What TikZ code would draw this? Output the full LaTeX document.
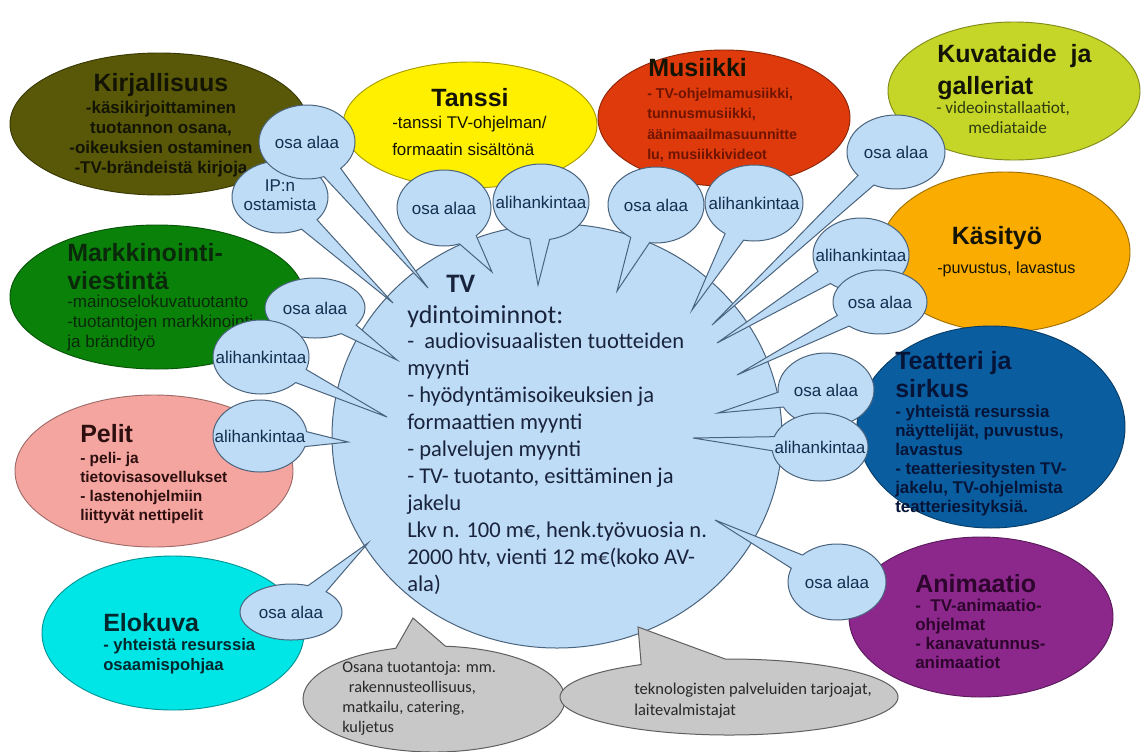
\documentclass[tikz,border=0pt]{standalone}
\usepackage{fontspec}
\setmainfont{Liberation Sans}
\newfontfamily\calib{Carlito}
\usetikzlibrary{shapes.geometric,shapes.callouts}
\newcommand{\fs}[2]{\fontsize{#1}{#2}\selectfont}
\newcommand{\blk}[2]{\begin{tabular}[t]{@{}#1@{}}#2\end{tabular}}
\definecolor{cKir}{RGB}{88,88,8}
\definecolor{cTan}{RGB}{255,240,0}
\definecolor{cMus}{RGB}{222,58,12}
\definecolor{cKuv}{RGB}{198,214,40}
\definecolor{cKas}{RGB}{250,172,0}
\definecolor{cTea}{RGB}{10,94,160}
\definecolor{cAni}{RGB}{140,40,140}
\definecolor{cMar}{RGB}{10,130,10}
\definecolor{cPel}{RGB}{245,165,160}
\definecolor{cElo}{RGB}{0,230,230}
\definecolor{bubfill}{RGB}{190,220,246}
\definecolor{bubline}{RGB}{75,100,125}
\definecolor{bubtext}{RGB}{20,45,80}
\definecolor{gfill}{RGB}{200,200,200}
\definecolor{gline}{RGB}{95,95,95}
\definecolor{gtext}{RGB}{40,40,40}
\definecolor{tvtext}{RGB}{25,35,60}
\definecolor{tDark}{RGB}{20,20,5}
\definecolor{tMus}{RGB}{110,20,0}
\definecolor{tKuv}{RGB}{45,60,15}
\definecolor{tTea}{RGB}{5,20,55}
\definecolor{tAni}{RGB}{45,5,45}
\definecolor{tMar}{RGB}{10,40,10}
\definecolor{tPel}{RGB}{45,15,15}
\definecolor{tElo}{RGB}{0,40,45}
\begin{document}
\begin{tikzpicture}[x=0.75pt,y=-0.75pt,
  sz/.style 2 args={minimum width=#1*1.5pt,minimum height=#2*1.5pt},
  blob/.style={ellipse,draw=#1!65!black,fill=#1,line width=0.7pt,inner sep=0pt},
  bub/.style={ellipse callout,draw=bubline,fill=bubfill,line width=0.75pt,inner sep=0pt,callout pointer arc=24,font=\fs{12.75}{14.3},text=bubtext},
  gbub/.style={ellipse callout,draw=gline,fill=gfill,line width=0.75pt,inner sep=0pt},
  txt/.style={inner sep=0pt,anchor=base west},
  ttl/.style={txt,font=\fs{18.75}{24}\bfseries},
]
\fill[white] (0,0) rectangle (1141,751);
\useasboundingbox (0,0) rectangle (1141,751);

% coloured fields
\node[blob=cKir,sz={149}{71}] (kir) at (159,124) {};
\node[blob=cTan,sz={127}{63}] (tan) at (470,125) {};
\node[blob=cMus,sz={126}{68}] (mus) at (724,118) {};
\node[blob=cKuv,sz={126}{69}] (kuv) at (1014,91) {};
\node[blob=cKas,sz={125}{80}] (kas) at (1005,252) {};
\node[blob=cTea,sz={134}{101}] (tea) at (991,427) {};
\node[blob=cAni,sz={132}{80}] (ani) at (981,617) {};
\node[blob=cMar,sz={147}{72}] (mar) at (157,297) {};
\node[blob=cPel,sz={139}{76}] (pel) at (154,471) {};
\node[blob=cElo,sz={131}{77}] (elo) at (173,633) {};

% texts of fields
\node[ttl,anchor=base,text=tDark] (kirT) at (161,91) {Kirjallisuus};
\node[txt,anchor=base,font=\fs{12.75}{15}\bfseries,text=tDark] (kirB) at (161,113) {\blk{c}{-käsikirjoittaminen\\tuotannon osana,\\-oikeuksien ostaminen\\-TV-brändeistä kirjoja}};
\node[ttl,anchor=base,text=tDark] (tanT) at (470,106) {Tanssi};
\node[txt,font=\fs{12.7}{20.25},text=tDark] (tanB) at (392,128) {\blk{l}{-tanssi TV-ohjelman/\\formaatin sisältönä}};
\node[ttl,text=tDark] (musT) at (648,76) {Musiikki};
\node[txt,font=\fs{10.7}{15.4}\bfseries,text=tMus] (musB) at (647,98) {\blk{l}{- TV-ohjelmamusiikki,\\tunnusmusiikki,\\äänimaailmasuunnitte\\lu, musiikkivideot}};
\node[ttl,text=tDark] (kuvT) at (937,62) {\blk{l}{Kuvataide\ \ ja\\galleriat}};
\node[txt,font=\calib\fs{12.9}{15},text=tKuv] (kuvB) at (936,113) {\blk{l}{- videoinstallaatiot,\\\hspace{24pt}mediataide}};
\node[ttl,anchor=base,text=tDark] (kasT) at (997,244) {Käsityö};
\node[txt,font=\fs{12.1}{15},text=tDark] (kasB) at (937,273) {-puvustus, lavastus};
\node[ttl,font=\fs{18.75}{21}\bfseries,text=tTea] (teaT) at (895,369) {\blk{l}{Teatteri ja\\sirkus}};
\node[txt,font=\fs{12.7}{14.25}\bfseries,text=tTea] (teaB) at (895,417) {\blk{l}{- yhteistä resurssia\\näyttelijät, puvustus,\\lavastus\\- teatteriesitysten TV-\\jakelu, TV-ohjelmista\\teatteriesityksiä.}};
\node[ttl,text=tAni] (aniT) at (915,592) {Animaatio};
\node[txt,font=\fs{12.75}{14.25}\bfseries,text=tAni] (aniB) at (915,611) {\blk{l}{-\ \ TV-animaatio-\\ohjelmat\\- kanavatunnus-\\animaatiot}};
\node[ttl,font=\fs{18.75}{21}\bfseries,text=tMar] (marT) at (67,261) {\blk{l}{Markkinointi-\\viestintä}};
\node[txt,font=\fs{12.8}{15},text=tMar] (marB) at (67,307) {\blk{l}{-mainoselokuvatuotanto\\-tuotantojen markkinointi\\ja brändityö}};
\node[ttl,text=tPel] (pelT) at (80,442) {Pelit};
\node[txt,font=\fs{11.6}{14.25}\bfseries,text=tPel] (pelB) at (80,463) {\blk{l}{- peli- ja\\tietovisasovellukset\\- lastenohjelmiin\\liittyvät nettipelit}};
\node[ttl,text=tElo] (eloT) at (103,631) {Elokuva};
\node[txt,font=\fs{12.5}{15}\bfseries,text=tElo] (eloB) at (103,650) {\blk{l}{- yhteistä resurssia\\osaamispohjaa}};

% central field
\node[ellipse,draw=bubline,fill=bubfill,line width=0.75pt,sz={225}{212}] (tv) at (557,436) {};

% pointer tips
\coordinate (t1) at (428,288);
\coordinate (t2) at (393,303);
\coordinate (t3) at (397,360);
\coordinate (t4) at (387,417);
\coordinate (t5) at (348,442);
\coordinate (t6) at (368,543);
\coordinate (t7) at (492,272);
\coordinate (t8) at (538,285);
\coordinate (t9) at (617,291);
\coordinate (t10) at (692,310);
\coordinate (t11) at (712,325);
\coordinate (t12) at (717,343);
\coordinate (t13) at (737,375);
\coordinate (t14) at (718,413);
\coordinate (t15) at (693,438);
\coordinate (t16) at (715,520);
\coordinate (t17) at (413,618);
\coordinate (t18) at (638,627);

% speech bubbles
\node[bub,sz={48}{36},callout absolute pointer={(t2)}] (b2) at (280,197) {\makebox[0pt]{\blk{c}{IP:n\\ostamista}}};
\node[bub,sz={48}{37},callout absolute pointer={(t1)}] (b1) at (307,142) {\makebox[0pt]{osa alaa}};
\node[bub,sz={50}{30},callout absolute pointer={(t3)}] (b3) at (315,308) {\makebox[0pt]{osa alaa}};
\node[bub,sz={48}{37},callout absolute pointer={(t4)}] (b4) at (261,357) {\makebox[0pt]{alihankintaa}};
\node[bub,sz={47}{36},callout absolute pointer={(t5)}] (b5) at (260,436) {\makebox[0pt]{alihankintaa}};
\node[bub,sz={51}{28},callout absolute pointer={(t6)}] (b6) at (291,612) {\makebox[0pt]{osa alaa}};
\node[bub,sz={47}{38},callout absolute pointer={(t7)}] (b7) at (444,208) {\makebox[0pt]{osa alaa}};
\node[bub,sz={48}{38},callout absolute pointer={(t8)}] (b8) at (541,202) {\makebox[0pt]{alihankintaa}};
\node[bub,sz={48}{38},callout absolute pointer={(t9)}] (b9) at (656,205) {\makebox[0pt]{osa alaa}};
\node[bub,sz={49}{38},callout absolute pointer={(t10)}] (b10) at (754,203) {\makebox[0pt]{alihankintaa}};
\node[bub,sz={49}{37},callout absolute pointer={(t11)}] (b11) at (896,152) {\makebox[0pt]{osa alaa}};
\node[bub,sz={48}{37},callout absolute pointer={(t12)}] (b12) at (861,255) {\makebox[0pt]{alihankintaa}};
\node[bub,sz={47}{32},callout absolute pointer={(t13)}] (b13) at (880,302) {\makebox[0pt]{osa alaa}};
\node[bub,sz={48}{37},callout absolute pointer={(t14)}] (b14) at (826,390) {\makebox[0pt]{osa alaa}};
\node[bub,sz={48}{34},callout absolute pointer={(t15)}] (b15) at (820,447) {\makebox[0pt]{alihankintaa}};
\node[bub,sz={49}{38},callout absolute pointer={(t16)}] (b16) at (837,582) {\makebox[0pt]{osa alaa}};

% grey bubbles
\node[gbub,sz={131}{53},callout pointer arc=22,callout absolute pointer={(t17)}] (g1) at (434,699) {};
\node[gbub,sz={169}{38},callout pointer arc=30,callout absolute pointer={(t18)}] (g2) at (729,697) {};
\node[txt,font=\calib\fs{12.2}{15},text=gtext] (g1T) at (342,672) {\blk{l}{Osana tuotantoja: mm.\\\hspace{5pt}rakennusteollisuus,\\matkailu, catering,\\kuljetus}};
\node[txt,font=\calib\fs{12.4}{16},text=gtext] (g2T) at (634,694) {\blk{l}{teknologisten palveluiden tarjoajat,\\laitevalmistajat}};

% central text
\node[txt,font=\calib\fs{20}{24}\bfseries,text=tvtext] (tvT) at (446,292) {TV};
\node[txt,font=\calib\fs{19.5}{24},text=tvtext] (tvS) at (407,323) {ydintoiminnot:};
\node[txt,font=\calib\fs{16.9}{20.25},text=tvtext] (tvB) at (407,348) {\blk{l}{-\ \ audiovisuaalisten tuotteiden\\myynti\\- hyödyntämisoikeuksien ja\\formaattien myynti\\- palvelujen myynti\\- TV- tuotanto, esittäminen ja\\jakelu\\Lkv n. 100 m€, henk.työvuosia n.\\2000 htv, vienti 12 m€(koko AV-\\ala)}};
\end{tikzpicture}
\end{document}
